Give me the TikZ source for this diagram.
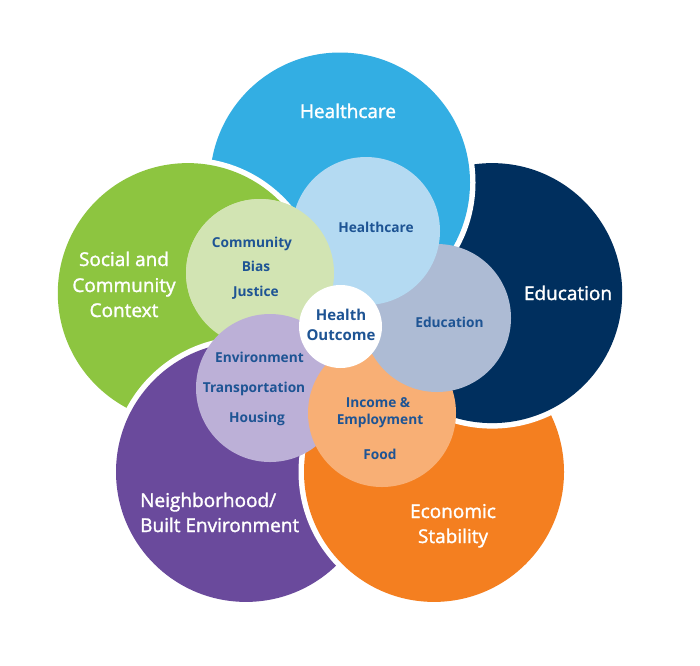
\documentclass[tikz,border=0pt]{standalone}
\usepackage{fontspec}
\setmainfont{Open Sans}
\newfontfamily\semib[FakeBold=1.6]{Open Sans}
\definecolor{cHc}{HTML}{33AEE3}
\definecolor{cEd}{HTML}{002F5E}
\definecolor{cEc}{HTML}{F47F20}
\definecolor{cNb}{HTML}{6A4A9C}
\definecolor{cSo}{HTML}{8DC540}
\definecolor{iHc}{HTML}{B4DAF2}
\definecolor{iCo}{HTML}{D2E4B3}
\definecolor{iEd}{HTML}{ADBBD4}
\definecolor{iIn}{HTML}{F8AF75}
\definecolor{iEn}{HTML}{BCB0D7}
\definecolor{txt}{HTML}{1E5494}
\tikzset{
  outer/.style={text=white, anchor=base, inner sep=0pt, font=\semib\fontsize{19}{23}\selectfont},
  inner/.style={text=txt, anchor=base, inner sep=0pt, font=\fontsize{13.7}{16}\selectfont\bfseries},
  centre/.style={text=txt, anchor=base, inner sep=0pt, font=\fontsize{15}{18}\selectfont\bfseries},
}
\newcommand{\bigdisc}[2]{\fill[white] #1 circle (135.5); \fill[#2] #1 circle (130);}
\begin{document}
\begin{tikzpicture}[x=1pt,y=-1pt]
\useasboundingbox[fill=white] (0,0) rectangle (700,665);
% big circles: centres
\coordinate (H) at (340,182.5);
\coordinate (E) at (492.2,293.1);
\coordinate (C) at (434.0,471.9);
\coordinate (N) at (246.0,471.9);
\coordinate (S) at (187.8,293.1);
\bigdisc{(S)}{cSo}
\bigdisc{(N)}{cNb}
\bigdisc{(C)}{cEc}
\bigdisc{(E)}{cEd}
\bigdisc{(H)}{cHc}
\begin{scope}
  \clip (0,0) rectangle (700,327);
  \bigdisc{(S)}{cSo}
\end{scope}
% inner circles
\coordinate (iH) at (366,231);
\coordinate (iC) at (260,273);
\coordinate (iE) at (437,318);
\coordinate (iI) at (382,413);
\coordinate (iV) at (270,388);
\fill[iCo] (iC) circle (74);
\fill[iEn] (iV) circle (74);
\fill[iIn] (iI) circle (74);
\fill[iEd] (iE) circle (74);
\fill[iHc] (iH) circle (74);
\begin{scope}
  \clip (0,0) rectangle (700,305);
  \fill[iCo] (iC) circle (74);
\end{scope}
\fill[white] (340.5,326.5) circle (41.5);
% outer labels
\node[outer] (lHc) at (348,118) {Healthcare};
\node[outer] (lEd) at (568,300) {Education};
\node[outer] (lSo1) at (124,266) {Social and};
\node[outer] (lSo2) at (124,292) {Community};
\node[outer] (lSo3) at (124,317) {Context};
\node[outer, anchor=base west] (lNb1) at (140,507) {Neighborhood/};
\node[outer, anchor=base west] (lNb2) at (140,532) {Built Environment};
\node[outer] (lEc1) at (453,518) {Economic};
\node[outer] (lEc2) at (453,543) {Stability};
% inner labels
\node[inner] (tHc) at (376,232) {Healthcare};
\node[inner] (tCo1) at (252,247) {Community};
\node[inner] (tCo2) at (256,271) {Bias};
\node[inner] (tCo3) at (256,296) {Justice};
\node[inner] (tEd) at (449.5,327) {Education};
\node[inner] (tEn1) at (259.5,362) {Environment};
\node[inner] (tEn2) at (254,392) {Transportation};
\node[inner] (tEn3) at (257,422) {Housing};
\node[inner] (tIn1) at (378,407) {Income \&};
\node[inner] (tIn2) at (380,424) {Employment};
\node[inner] (tIn3) at (380,459) {Food};
\node[centre] (tHo1) at (341,320.5) {Health};
\node[centre] (tHo2) at (341,340.5) {Outcome};
\end{tikzpicture}
\end{document}
